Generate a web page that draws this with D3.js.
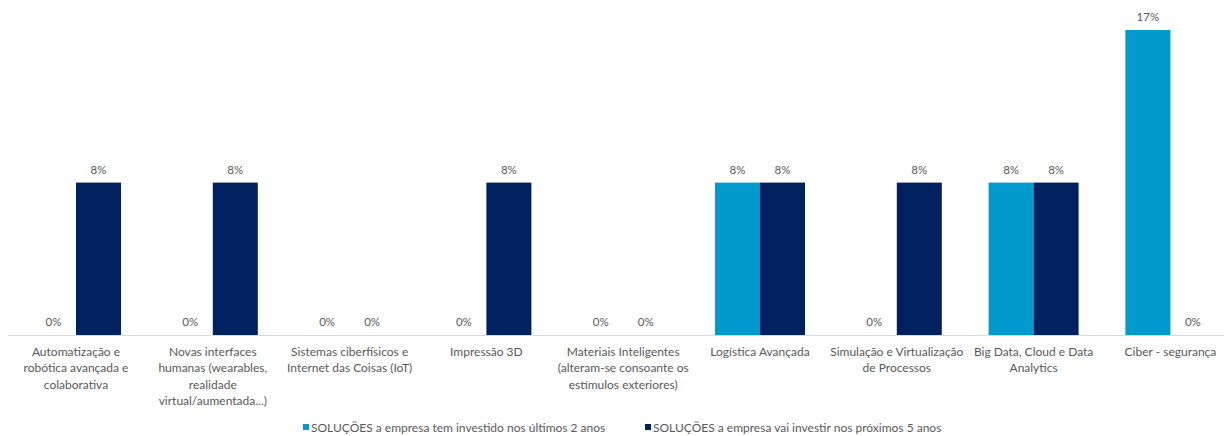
<!DOCTYPE html>
<html><head><meta charset="utf-8">
<script src="https://cdn.jsdelivr.net/npm/d3@7"></script>
<style>body{margin:0;background:#fff}svg{display:block;font-family:Lato,"Open Sans",sans-serif}</style>
</head><body><svg id="c" width="1224" height="436"></svg>
<script>
const categories = [
  ["Automatização e","robótica avançada e","colaborativa"],
  ["Novas interfaces","humanas (wearables,","realidade","virtual/aumentada...)"],
  ["Sistemas ciberfísicos e","Internet das Coisas (IoT)"],
  ["Impressão 3D"],
  ["Materiais Inteligentes","(alteram-se consoante os","estímulos exteriores)"],
  ["Logística Avançada"],
  ["Simulação e Virtualização","de Processos"],
  ["Big Data, Cloud e Data","Analytics"],
  ["Ciber - segurança"]
];
const seriesNames = ["SOLUÇÕES a empresa tem investido nos últimos 2 anos","SOLUÇÕES a empresa vai investir nos próximos 5 anos"];
const investido = [0, 0, 0, 0, 0, 8.33, 0, 8.33, 16.67];
const vaiInvestir = [8.33, 8.33, 0, 8.33, 0, 8.33, 8.33, 8.33, 0];
const colors = ["#009ACD", "#002060"];

const svg = d3.select("#c");
const base = 335;
const x = d3.scaleBand().domain(d3.range(categories.length)).range([7.6, 1238.8]).paddingInner(0).paddingOuter(0);
const x1 = d3.scaleBand().domain([0,1]).range([0, x.bandwidth()]).paddingInner(0).paddingOuter(0.52);
const y = d3.scaleLinear().domain([0, 16.67]).range([base, 30]);

const data = [investido, vaiInvestir];
data.forEach((vals, s) => {
  const g = svg.append("g");
  vals.forEach((v, i) => {
    const bx = x(i) + x1(s);
    g.append("rect").attr("x", bx).attr("y", y(v)).attr("width", x1.bandwidth()).attr("height", base - y(v)).attr("fill", colors[s]);
    g.append("text").attr("x", bx + x1.bandwidth()/2).attr("y", y(v) - 9)
      .attr("text-anchor","middle").attr("font-size", 11.5).attr("fill","#595959")
      .text(Math.round(v) + "%");
  });
});

svg.append("line").attr("x1", 7.6).attr("x2", 1224).attr("y1", base + 0.5).attr("y2", base + 0.5).attr("stroke","#D9D9D9");

categories.forEach((lines, i) => {
  const t = svg.append("text").attr("x", x(i) + x.bandwidth()/2).attr("y", 356)
    .attr("text-anchor","middle").attr("font-size", 12).attr("fill","#595959");
  lines.forEach((l, j) => t.append("tspan").attr("x", x(i) + x.bandwidth()/2).attr("y", 356 + j*16.3).text(l));
});

const legX = [303, 645];
seriesNames.forEach((n, s) => {
  svg.append("rect").attr("x", legX[s]).attr("y", 424).attr("width", 6).attr("height", 6).attr("fill", colors[s]);
  svg.append("text").attr("x", legX[s] + 8).attr("y", 432).attr("font-size", 12).attr("fill","#595959").text(n);
});
</script></body></html>
